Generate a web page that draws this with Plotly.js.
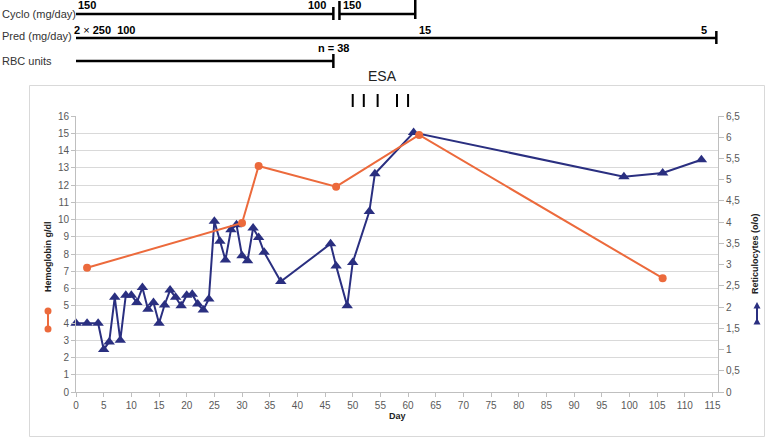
<!DOCTYPE html>
<html>
<head>
<meta charset="utf-8">
<script src="https://cdn.plot.ly/plotly-3.0.1.min.js"></script>
<style>html,body{margin:0;padding:0;background:#fff;}#chart{width:768px;height:438px;}</style>
</head>
<body>
<div id="chart"></div>
<script>
// ---- Data ----
const hbDays = [2, 30, 33, 47, 62, 106];
const hbValues = [7.2, 9.8, 13.1, 11.9, 14.9, 6.6];

const retDays = [0, 2, 4, 5, 6, 7, 8, 9, 10, 11, 12, 13, 14, 15, 16, 17, 18, 19, 20, 21, 22, 23, 24,
  25, 26, 27, 28, 29, 30, 31, 32, 33, 34, 37, 46, 47, 49, 50, 53, 54, 61, 99, 106, 113];
const retValues = [1.62, 1.62, 1.62, 1.0, 1.18, 2.23, 1.22, 2.28, 2.28, 2.11, 2.46, 1.95, 2.11, 1.62, 2.05, 2.4, 2.23, 2.03, 2.28, 2.3, 2.07, 1.93, 2.19,
  4.02, 3.55, 3.11, 3.82, 3.94, 3.21, 3.09, 3.86, 3.64, 3.29, 2.6, 3.49, 2.97, 2.03, 3.05, 4.25, 5.14, 6.11, 5.07, 5.16, 5.47];

// Treatment timelines (days)
const cycloPeriods = [[0, 46.5], [47.6, 61.3]];
const predPeriod = [0, 115.7];
const rbcPeriod = [0, 46.5];
const esaDays = [50, 52, 54.5, 58, 60];

const xTickLabels = ['0','5','10','15','20','25','30','35','40','45','50','55','60','65','70','75','80','85','90','95','100','105','110','115'];

// ---- Layout geometry helpers (pixels -> paper) ----
const W = 768, H = 438;
const M = {l: 76, r: 50, t: 116, b: 46};
const PW = W - M.l - M.r, PH = H - M.t - M.b;
const px = v => (v - M.l) / PW;
const py = v => (H - M.b - v) / PH;

const ORANGE = '#ec6a3c';
const NAVY = '#2a2f80';
const TXT = '#595959';
const FONT = 'Liberation Sans, Arial, sans-serif';

// Reticulocytes on the base (right-side) axis, hemoglobin on the overlay (left-side) axis so it draws on top
const traces = [
  {
    x: retDays, y: retValues, type: 'scatter', mode: 'lines+markers', name: 'Reticulocytes',
    line: {color: NAVY, width: 2}, marker: {color: NAVY, size: 10, symbol: 'triangle-up'},
    xaxis: 'x', yaxis: 'y', cliponaxis: false
  },
  {
    x: hbDays, y: hbValues, type: 'scatter', mode: 'lines+markers', name: 'Hemoglobin',
    line: {color: ORANGE, width: 2}, marker: {color: ORANGE, size: 8, symbol: 'circle'},
    xaxis: 'x', yaxis: 'y2', cliponaxis: false
  }
];

const shapes = [];
// outer chart frame
shapes.push({type: 'rect', xref: 'paper', yref: 'paper', x0: px(29.5), x1: px(764.5), y0: py(436.5), y1: py(85.5),
  line: {color: '#d9d9d9', width: 1}});

function hLineDays(d0, d1, ypx) {
  shapes.push({type: 'line', xref: 'x', yref: 'paper', x0: d0, x1: d1, y0: py(ypx), y1: py(ypx),
    line: {color: '#000', width: 2.5}});
}
function vBarDay(d, ytop, ybot) {
  shapes.push({type: 'line', xref: 'x', yref: 'paper', x0: d, x1: d, y0: py(ytop), y1: py(ybot),
    line: {color: '#000', width: 2.5}});
}
// Cyclo
hLineDays(cycloPeriods[0][0], cycloPeriods[0][1], 14);
vBarDay(cycloPeriods[0][1], 7, 20);
hLineDays(cycloPeriods[1][0], cycloPeriods[1][1], 14);
vBarDay(cycloPeriods[1][0], 1, 20);
vBarDay(cycloPeriods[1][1], 0, 19);
// Pred
hLineDays(predPeriod[0], predPeriod[1], 38);
vBarDay(predPeriod[1], 31, 44);
// RBC
hLineDays(rbcPeriod[0], rbcPeriod[1], 61);
vBarDay(rbcPeriod[1], 54, 68);
// ESA ticks
esaDays.forEach(d => shapes.push({type: 'line', xref: 'x', yref: 'paper', x0: d, x1: d, y0: py(94), y1: py(107),
  line: {color: '#000', width: 2}}));

// Legend keys beside axis titles
shapes.push({type: 'line', xref: 'paper', yref: 'paper', x0: px(48), x1: px(48), y0: py(311), y1: py(329),
  line: {color: ORANGE, width: 2}});
[311, 329].forEach(c => shapes.push({type: 'circle', xref: 'paper', yref: 'paper',
  x0: px(44.5), x1: px(51.5), y0: py(c + 3.5), y1: py(c - 3.5), fillcolor: ORANGE, line: {color: ORANGE, width: 0}}));
shapes.push({type: 'line', xref: 'paper', yref: 'paper', x0: px(757), x1: px(757), y0: py(304), y1: py(322),
  line: {color: NAVY, width: 2}});
[[302, 308.5], [318, 324.5]].forEach(([top, bot]) => shapes.push({type: 'path', xref: 'paper', yref: 'paper',
  path: `M ${px(757)} ${py(top)} L ${px(753.5)} ${py(bot)} L ${px(760.5)} ${py(bot)} Z`,
  fillcolor: NAVY, line: {color: NAVY, width: 0}}));

function ann(text, xp, yp, opts) {
  return Object.assign({text: text, xref: 'paper', yref: 'paper', x: px(xp), y: py(yp), showarrow: false,
    xanchor: 'left', yanchor: 'middle', font: {family: FONT, size: 11, color: '#000'}}, opts || {});
}
const annotations = [
  ann('Cyclo (mg/day)', 0, 13.5, {font: {family: FONT, size: 11, color: '#333'}}),
  ann('Pred (mg/day)', 0, 36, {font: {family: FONT, size: 11, color: '#333'}}),
  ann('RBC units', 0, 61.5, {font: {family: FONT, size: 11, color: '#333'}}),
  ann('<b>150</b>', 76, 5),
  ann('<b>100</b>', 328, 5, {xanchor: 'right'}),
  ann('<b>150</b>', 341, 5),
  ann('<b>2</b> × <b>250&nbsp;&nbsp;100</b>', 72, 29.5),
  ann('<b>15</b>', 416.5, 29.5),
  ann('<b>5</b>', 699, 29.5),
  ann('<b>n = 38</b>', 316, 48.5),
  ann('ESA', 382, 76, {xanchor: 'center', font: {family: FONT, size: 14, color: '#222'}}),
  ann('<b>Hemoglobin g/dl</b>', 48, 257, {xanchor: 'center', textangle: -90, font: {family: FONT, size: 9, color: '#222'}}),
  ann('<b>Reticulocytes (o/o)</b>', 755, 254, {xanchor: 'center', textangle: -90, font: {family: FONT, size: 9, color: '#222'}}),
  ann('<b>Day</b>', 397, 416, {xanchor: 'center', font: {family: FONT, size: 9, color: '#222'}})
];

const tickFont = {family: FONT, size: 10, color: TXT};
const layout = {
  width: W, height: H,
  margin: M,
  paper_bgcolor: '#fff', plot_bgcolor: '#fff',
  separators: ',.',
  showlegend: false,
  font: {family: FONT},
  xaxis: {
    range: [0, 116], tickmode: 'array', tickvals: xTickLabels.map(Number), ticktext: xTickLabels,
    ticks: 'outside', ticklen: 4, tickcolor: '#bfbfbf', showline: true, linecolor: '#bfbfbf', linewidth: 1,
    showgrid: false, zeroline: false, tickfont: tickFont, fixedrange: true
  },
  // Reticulocytes (%) - right
  yaxis: {
    side: 'right', range: [0, 6.5], dtick: 0.5, tick0: 0, ticks: 'outside', ticklen: 5,
    tickcolor: '#bfbfbf', showline: true, linecolor: '#bfbfbf', showgrid: false, zeroline: false,
    tickfont: tickFont, fixedrange: true
  },
  // Hemoglobin g/dl - left
  yaxis2: {
    overlaying: 'y', side: 'left', range: [0, 16], dtick: 1, tick0: 0, ticks: 'outside', ticklen: 4, tickcolor: '#bfbfbf',
    showline: true, linecolor: '#bfbfbf', showgrid: true, gridcolor: '#d9d9d9', gridwidth: 1,
    zeroline: false, tickfont: tickFont, fixedrange: true
  },
  shapes: shapes,
  annotations: annotations
};

Plotly.newPlot('chart', traces, layout, {displayModeBar: false, staticPlot: true});
</script>
</body>
</html>
